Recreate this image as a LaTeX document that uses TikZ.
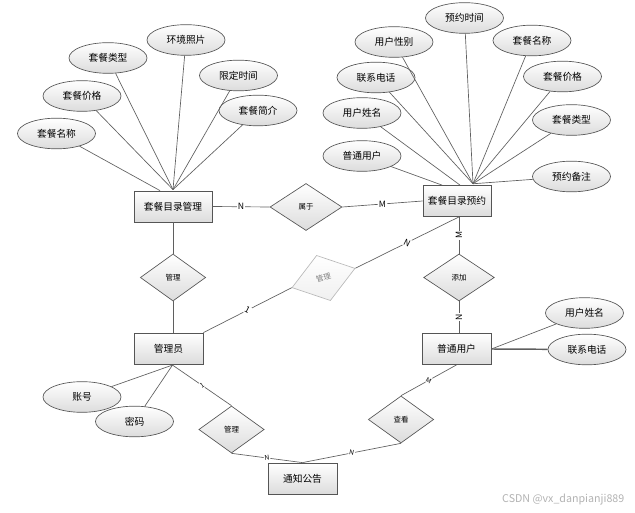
\documentclass[tikz,border=0pt]{standalone}
\usepackage{fontspec}
\newfontfamily\cjkfont{Noto Sans CJK SC}
\usetikzlibrary{shapes.geometric}

\definecolor{edgegray}{RGB}{85,85,85}
\definecolor{linegray}{RGB}{95,95,95}
\definecolor{shadegray}{RGB}{220,220,220}
\definecolor{markgray}{RGB}{185,185,185}

\begin{document}
\begin{tikzpicture}[x=0.75pt,y=0.75pt,yscale=-1,xscale=1,
  entity/.style={rectangle, draw=edgegray, line width=0.6pt, top color=white, bottom color=shadegray,
    minimum width=51.75pt, minimum height=23.25pt, inner sep=0pt, font=\cjkfont\fontsize{7.3}{8}\selectfont},
  attr/.style={ellipse, draw=edgegray, line width=0.5pt, top color=white, bottom color=shadegray,
    minimum width=58.5pt, minimum height=23pt, inner sep=0pt, font=\cjkfont\fontsize{7.3}{8}\selectfont},
  rel/.style={diamond, draw=edgegray, line width=0.5pt, top color=white, bottom color=shadegray,
    minimum width=49pt, minimum height=35.25pt, inner sep=0pt, font=\cjkfont\fontsize{5.6}{6}\selectfont},
  link/.style={draw=linegray, line width=0.5pt},
  card/.style={fill=white, inner sep=0.6pt, font=\cjkfont\fontsize{6.5}{7}\selectfont},
  smallcard/.style={card, font=\cjkfont\fontsize{5}{6}\selectfont}
]
\useasboundingbox (0,0) rectangle (635,513);

%Entities
\node[entity, minimum width=58.5pt] (menu) at (173,206.5) {套餐目录管理};
\node[entity, minimum width=51pt] (order) at (457,201) {套餐目录预约};
\node[entity] (admin) at (168.5,348.5) {管理员};
\node[entity] (user) at (456.5,349) {普通用户};
\node[entity] (notice) at (302.5,478.5) {通知公告};

%Relations
\node[rel, minimum width=54pt] (belong) at (306,207) {属于};
\node[rel] (manage) at (173,277.5) {管理};
\node[rel, minimum width=53pt] (addto) at (459,277.5) {添加};
\node[rel, draw=markgray, text=gray, bottom color=black!6, rotate=17, minimum width=49.5pt, minimum height=35.5pt] (check) at (323.5,278) {管理};
\node[rel] (issue) at (231.5,429.5) {管理};
\node[rel] (view) at (401,419.5) {查看};

%Attributes of menu
\node[attr] (mname) at (56.5,133.5) {套餐名称};
\node[attr] (mprice) at (82,96) {套餐价格};
\node[attr] (mtype) at (108,58) {套餐类型};
\node[attr] (mphoto) at (186,40) {环境照片};
\node[attr] (mtime) at (238.5,75.5) {限定时间};
\node[attr] (mintro) at (258,110.5) {套餐简介};

%Attributes of order
\node[attr] (otime) at (464.5,18) {预约时间};
\node[attr] (osex) at (394,42) {用户性别};
\node[attr] (oname) at (532,40.5) {套餐名称};
\node[attr] (otel) at (376,77.5) {联系电话};
\node[attr] (oprice) at (562.5,76.5) {套餐价格};
\node[attr] (ouser) at (362,113) {用户姓名};
\node[attr] (otype) at (571.5,120) {套餐类型};
\node[attr] (omember) at (362,156) {普通用户};
\node[attr] (onote) at (571.5,176.5) {预约备注};

%Attributes of user and admin
\node[attr] (uname) at (584.5,313) {用户姓名};
\node[attr] (utel) at (587,349.5) {联系电话};
\node[attr] (aacct) at (82,397) {账号};
\node[attr] (apwd) at (134.5,421.5) {密码};

%Straight Lines
\coordinate (mhub) at ([yshift=-0.75pt]menu.north);
\coordinate (mleft) at ([xshift=-9.75pt]menu.north);
\coordinate (ohub) at ([xshift=12pt,yshift=-1pt]order.north);
\coordinate (omid) at ([xshift=2.25pt]order.north);
\coordinate (oleft) at ([xshift=-11.25pt]order.north);
\draw[link] (mleft) -- (mname);
\foreach \a in {mprice,mtype,mphoto,mtime,mintro}
  \draw[link] (mhub) -- (\a);
\foreach \a in {otime,osex,oname,otel,oprice,otype,onote}
  \draw[link] (ohub) -- (\a);
\draw[link] (omid) -- (ouser);
\draw[link] (oleft) -- (omember);

\draw[link] (user.east) -- (uname);
\draw[link, line width=1.1pt] (user.east) -- (utel);
\coordinate (ahub) at ([xshift=3pt,yshift=0.5pt]admin.south);
\draw[link] (ahub) -- (aacct);
\draw[link] (ahub) -- (apwd);

%Relation Lines
\draw[link] (menu.east) -- node[card] {N} (belong.west);
\draw[link] (belong.east) -- node[card] {M} (order.west);
\draw[link] (menu.south) -- (manage.north);
\draw[link] (manage.south) -- (manage.south |- admin.north);
\draw[link] (admin.north east) -- node[card, sloped] {1} (check.west);
\draw[link] (check.east) -- node[card, sloped] {N} (addto.north |- order.south);
\draw[link] (addto.north |- order.south) -- node[card, rotate=90] {M} (addto.north);
\draw[link] (addto.south) -- node[card, rotate=90] {N} (addto.south |- user.north);
\draw[link] (ahub) -- node[smallcard, sloped] {1} (issue.north);
\draw[link] (issue.south) -- node[smallcard, sloped] {N} (notice.north);
\draw[link] (view.south) -- node[smallcard, sloped] {N} (notice.north);
\draw[link] (view.north) -- node[smallcard, sloped] {M} (user.south);

% Text Node
\node[font=\cjkfont\fontsize{8}{9}\selectfont, text=black!30, anchor=east] (mark) at (629,500) {CSDN @vx\_danpianji889};

\end{tikzpicture}
\end{document}
